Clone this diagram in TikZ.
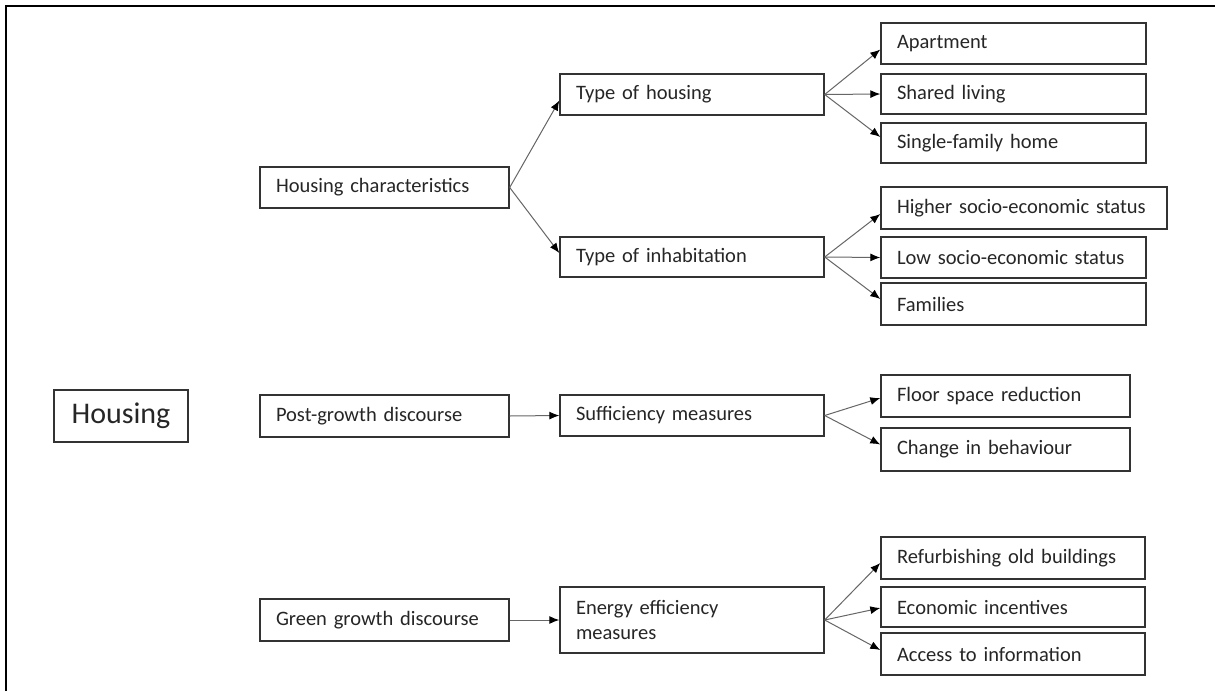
\documentclass[tikz,border=0pt]{standalone}
\usepackage{fontspec}
\setmainfont{Carlito}
\usetikzlibrary{arrows.meta,calc}
\begin{document}
\begin{tikzpicture}[x=1pt,y=-1pt,
  box/.style={draw=black!80, line width=1.4pt, rectangle, inner xsep=16pt, inner ysep=0pt,
    align=left, font=\fontsize{20.5}{25}\selectfont, text=black!85},
  conn/.style={draw=black!60, line width=1pt, -{Latex[length=10pt,width=8pt,color=black]}}]
\useasboundingbox (0,0) rectangle (1215,691);
\fill[white] (0,0) rectangle (1215,691);
\draw[line width=2pt] (6,691) -- (6,6) -- (1215,6);
% level 0
\node[box, align=center, inner xsep=0pt, minimum width=134pt, minimum height=52pt, font=\fontsize{30}{34}\selectfont] (ho) at (121,416) {Housing};
% level 1
\node[box, minimum height=41pt, text width=217pt] (hc) at (384.5,187.5) {Housing characteristics};
\node[box, minimum height=42pt, text width=217pt] (pg) at (384.5,416) {Post-growth discourse};
\node[box, minimum height=42pt, text width=217pt] (gg) at (384.5,620) {Green growth discourse};
% level 2
\node[box, minimum height=41pt, text width=232pt] (th) at (692,94.5) {Type of housing};
\node[box, minimum height=40pt, text width=232pt] (ti) at (692,257) {Type of inhabitation};
\node[box, minimum height=41pt, text width=232pt] (sm) at (692,415.5) {Sufficiency measures};
\node[box, minimum height=66pt, text width=232pt] (ee) at (692,620) {Energy efficiency\\measures};
% level 3
\node[box, minimum height=41pt, text width=233pt] (ap) at (1013.5,43.5) {Apartment};
\node[box, minimum height=40pt, text width=233pt] (sl) at (1013.5,94) {Shared living};
\node[box, minimum height=40pt, text width=233pt] (sf) at (1013.5,143) {Single-family home};
\node[box, minimum height=42pt, text width=254pt] (hs) at (1024,208) {Higher socio-economic status};
\node[box, minimum height=41pt, text width=233pt] (ls) at (1013.5,257.5) {Low socio-economic status};
\node[box, minimum height=42pt, text width=233pt] (fa) at (1013.5,304) {Families};
\node[box, minimum height=42pt, text width=217pt] (fs) at (1005.5,396) {Floor space reduction};
\node[box, minimum height=43pt, text width=217pt] (cb) at (1005.5,449.5) {Change in behaviour};
\node[box, minimum height=42pt, text width=232pt] (rb) at (1013,558) {Refurbishing old buildings};
\node[box, minimum height=40pt, text width=232pt] (ei) at (1013,607) {Economic incentives};
\node[box, minimum height=42pt, text width=232pt] (ai) at (1013,654) {Access to information};
% connectors
\draw[conn] (hc.east) -- ([yshift=-6pt]th.west);
\draw[conn] (hc.east) -- ([yshift=4pt]ti.west);
\draw[conn] (th.east) -- ([yshift=-6pt]ap.west);
\draw[conn] (th.east) -- (sl.west);
\draw[conn] (th.east) -- ([yshift=6pt]sf.west);
\draw[conn] (ti.east) -- ([yshift=-6pt]hs.west);
\draw[conn] (ti.east) -- (ls.west);
\draw[conn] (ti.east) -- ([yshift=5pt]fa.west);
\draw[conn] (pg.east) -- (sm.west);
\draw[conn] (sm.east) -- ([yshift=-2pt]fs.west);
\draw[conn] (sm.east) -- ([yshift=5pt]cb.west);
\draw[conn] (gg.east) -- (ee.west);
\draw[conn] (ee.east) -- ([yshift=-5pt]rb.west);
\draw[conn] (ee.east) -- ([yshift=-1pt]ei.west);
\draw[conn] (ee.east) -- ([yshift=4pt]ai.west);
\end{tikzpicture}
\end{document}
